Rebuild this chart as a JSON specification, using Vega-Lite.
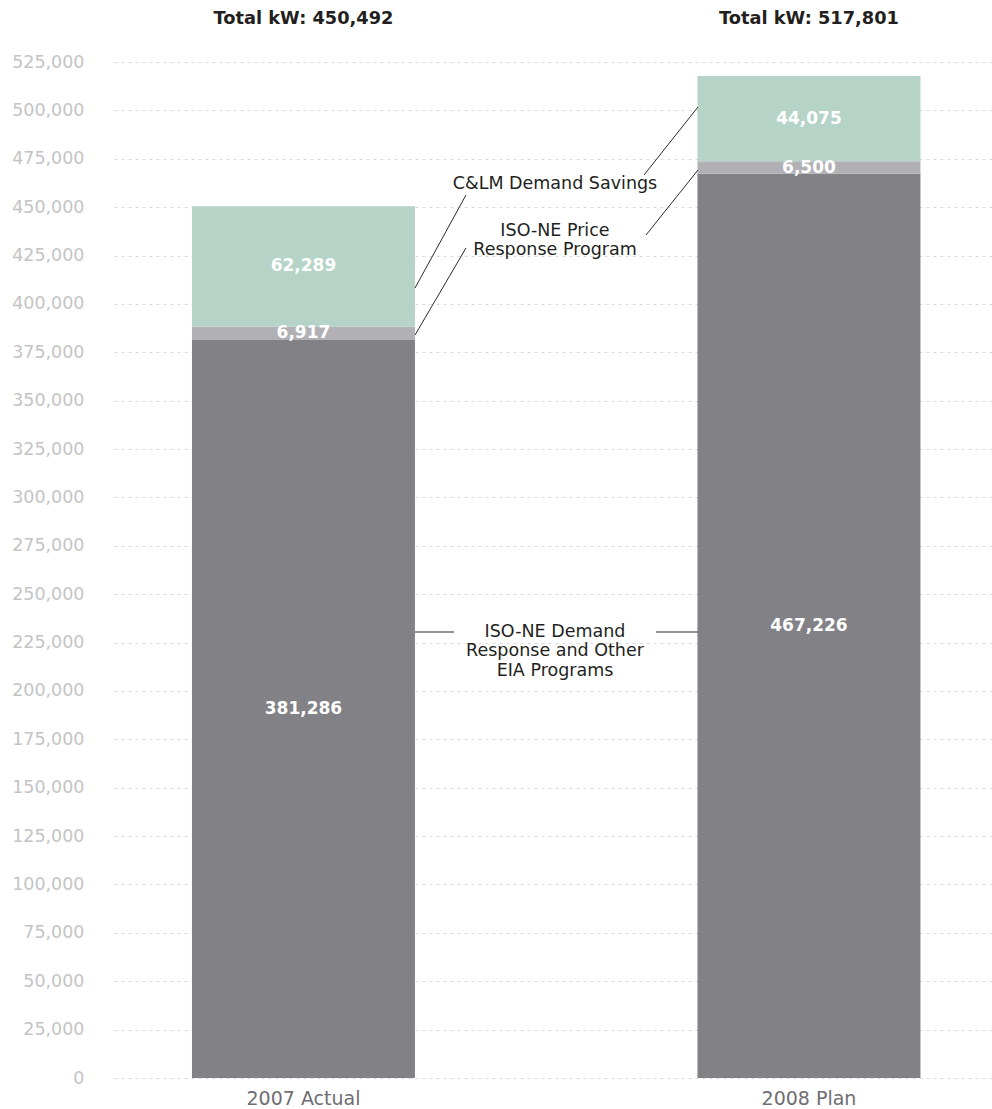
{
  "$schema": "https://vega.github.io/schema/vega-lite/v6.json",
  "width": 879,
  "height": 1016,
  "padding": {"left": 11, "top": 9, "right": 0, "bottom": 0},
  "background": "white",
  "config": {
    "view": {"stroke": null},
    "font": "DejaVu Sans",
    "axisY": {
      "grid": true,
      "gridDash": [3, 4],
      "gridColor": "#dadada",
      "gridWidth": 1,
      "domain": false,
      "ticks": false,
      "labelColor": "#c4c4c4",
      "labelFontSize": 17.5,
      "labelPadding": 30
    }
  },
  "datasets": {
    "segments": [
      {"period": "2007 Actual", "component": "ISO-NE Demand Response and Other EIA Programs", "kW": 381286, "order": 1},
      {"period": "2007 Actual", "component": "ISO-NE Price Response Program", "kW": 6917, "order": 2},
      {"period": "2007 Actual", "component": "C&LM Demand Savings", "kW": 62289, "order": 3},
      {"period": "2008 Plan", "component": "ISO-NE Demand Response and Other EIA Programs", "kW": 467226, "order": 1},
      {"period": "2008 Plan", "component": "ISO-NE Price Response Program", "kW": 6500, "order": 2},
      {"period": "2008 Plan", "component": "C&LM Demand Savings", "kW": 44075, "order": 3}
    ],
    "annotationLines": [
      {"target": "C&LM Demand Savings, 2007", "x": 0.2204, "y": 408220, "x2": 0.3211, "y2": 456270},
      {"target": "C&LM Demand Savings, 2008", "x": 0.6729, "y": 466610, "x2": 0.7796, "y2": 501750},
      {"target": "ISO-NE Price Response Program, 2007", "x": 0.2204, "y": 383930, "x2": 0.3211, "y2": 428890},
      {"target": "ISO-NE Price Response Program, 2008", "x": 0.6769, "y": 435600, "x2": 0.7796, "y2": 469190},
      {"target": "ISO-NE Demand Response, 2007", "x": 0.2204, "y": 230460, "x2": 0.2974, "y2": 230460},
      {"target": "ISO-NE Demand Response, 2008", "x": 0.6966, "y": 230460, "x2": 0.7796, "y2": 230460}
    ],
    "annotationText": [
      {"label": "C&LM Demand Savings", "x": 0.497, "y": 462000},
      {"label": "ISO-NE Price|Response Program", "x": 0.497, "y": 437700},
      {"label": "ISO-NE Demand|Response and Other|EIA Programs", "x": 0.497, "y": 230720}
    ]
  },
  "layer": [
    {
      "data": {"name": "segments"},
      "layer": [
        {
          "mark": {"type": "bar"},
          "encoding": {
            "x": {
              "field": "period",
              "type": "nominal",
              "sort": ["2007 Actual", "2008 Plan"],
              "title": null,
              "scale": {"paddingInner": 0.5589, "paddingOuter": 0.1489, "align": 0.518},
              "axis": {
                "orient": "bottom",
                "labelAngle": 0,
                "domain": false,
                "ticks": false,
                "grid": false,
                "labelFontSize": 19,
                "labelColor": "#6e6e72",
                "labelPadding": 11
              }
            },
            "y": {
              "field": "kW",
              "type": "quantitative",
              "stack": "zero",
              "title": null,
              "scale": {"domain": [0, 525000], "nice": false},
              "axis": {
                "values": [0, 25000, 50000, 75000, 100000, 125000, 150000, 175000, 200000, 225000, 250000, 275000, 300000, 325000, 350000, 375000, 400000, 425000, 450000, 475000, 500000, 525000],
                "format": ",d"
              }
            },
            "color": {
              "field": "component",
              "type": "nominal",
              "scale": {
                "domain": ["ISO-NE Demand Response and Other EIA Programs", "ISO-NE Price Response Program", "C&LM Demand Savings"],
                "range": ["#828286", "#b1b1b5", "#b5d3c6"]
              },
              "legend": null
            },
            "order": {"field": "order", "type": "quantitative"}
          }
        },
        {
          "transform": [
            {"stack": "kW", "groupby": ["period"], "sort": [{"field": "order", "order": "ascending"}], "as": ["kW0", "kW1"]},
            {"calculate": "(datum.kW0 + datum.kW1) / 2", "as": "mid"}
          ],
          "mark": {"type": "text", "color": "white", "fontSize": 17, "fontWeight": "bold", "baseline": "middle"},
          "encoding": {
            "x": {
              "field": "period",
              "type": "nominal",
              "sort": ["2007 Actual", "2008 Plan"],
              "title": null,
              "axis": {
                "orient": "top",
                "labelAngle": 0,
                "domain": false,
                "ticks": false,
                "grid": false,
                "labelFontSize": 17.8,
                "labelFontWeight": "bold",
                "labelColor": "#231f20",
                "labelBaseline": "alphabetic",
                "labelPadding": 39,
                "labelExpr": "datum.value == '2007 Actual' ? 'Total kW: 450,492' : 'Total kW: 517,801'"
              }
            },
            "y": {
              "field": "mid",
              "type": "quantitative",
              "title": null,
              "axis": {
                "values": [0, 25000, 50000, 75000, 100000, 125000, 150000, 175000, 200000, 225000, 250000, 275000, 300000, 325000, 350000, 375000, 400000, 425000, 450000, 475000, 500000, 525000],
                "format": ",d"
              }
            },
            "text": {"field": "kW", "type": "quantitative", "format": ","}
          }
        }
      ],
      "resolve": {"axis": {"x": "independent"}}
    },
    {
      "layer": [
        {
          "data": {"name": "annotationLines"},
          "mark": {"type": "rule", "color": "#2b2b2b", "strokeWidth": 1},
          "encoding": {
            "x": {"field": "x", "type": "quantitative", "scale": {"domain": [-0.3745, 1.3626], "nice": false, "zero": false}, "axis": null},
            "x2": {"field": "x2"},
            "y": {
              "field": "y",
              "type": "quantitative",
              "title": null,
              "axis": {
                "values": [0, 25000, 50000, 75000, 100000, 125000, 150000, 175000, 200000, 225000, 250000, 275000, 300000, 325000, 350000, 375000, 400000, 425000, 450000, 475000, 500000, 525000],
                "format": ",d"
              }
            },
            "y2": {"field": "y2"}
          }
        },
        {
          "data": {"name": "annotationText"},
          "mark": {"type": "text", "color": "#231f20", "fontSize": 17.5, "lineBreak": "|", "lineHeight": 19.5, "align": "center", "baseline": "middle"},
          "encoding": {
            "x": {"field": "x", "type": "quantitative", "scale": {"domain": [-0.3745, 1.3626], "nice": false, "zero": false}, "axis": null},
            "y": {
              "field": "y",
              "type": "quantitative",
              "title": null,
              "axis": {
                "values": [0, 25000, 50000, 75000, 100000, 125000, 150000, 175000, 200000, 225000, 250000, 275000, 300000, 325000, 350000, 375000, 400000, 425000, 450000, 475000, 500000, 525000],
                "format": ",d"
              }
            },
            "text": {"field": "label"}
          }
        }
      ]
    }
  ],
  "resolve": {"scale": {"x": "independent"}, "axis": {"x": "independent"}}
}
